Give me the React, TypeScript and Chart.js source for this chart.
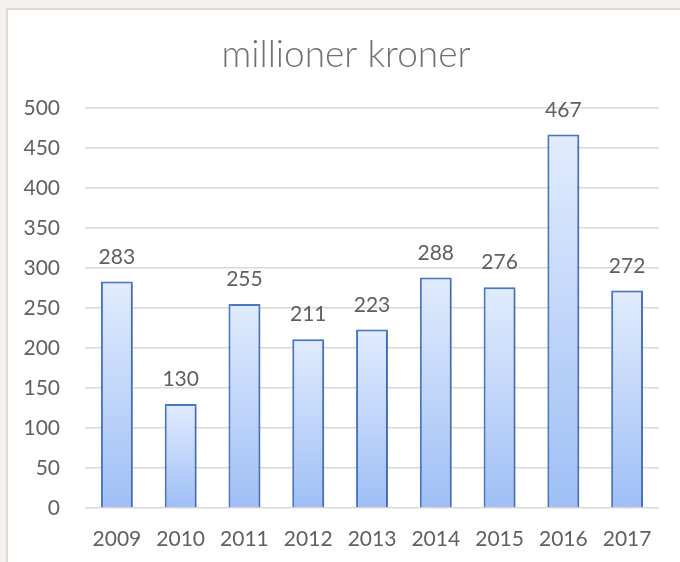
import React, { useEffect, useRef } from "react";
import { Chart, registerables } from "chart.js";

Chart.register(...registerables);

const categories = ["2009", "2010", "2011", "2012", "2013", "2014", "2015", "2016", "2017"];
const values = [283, 130, 255, 211, 223, 288, 276, 467, 272];
const yTicks = [0, 50, 100, 150, 200, 250, 300, 350, 400, 450, 500];
const titleText = "millioner kroner";

const FONT = "Lato, 'Open Sans', sans-serif";
const TEXT_COLOR = "#606060";

const backgroundPlugin = {
  id: "bgBox",
  beforeDraw(chart: any) {
    const ctx = chart.ctx;
    ctx.save();
    ctx.fillStyle = "#f5f1ee";
    ctx.fillRect(0, 0, chart.width, chart.height);
    ctx.fillStyle = "#dddad8";
    ctx.fillRect(6, 8, chart.width - 6, chart.height - 8);
    ctx.fillStyle = "#ffffff";
    ctx.fillRect(8, 10, chart.width - 8, chart.height - 10);
    ctx.restore();
  },
};

const titlePlugin = {
  id: "centredTitle",
  afterDraw(chart: any) {
    const ctx = chart.ctx;
    ctx.save();
    ctx.fillStyle = "#717171";
    ctx.font = `300 37px ${FONT}`;
    ctx.textAlign = "center";
    ctx.textBaseline = "middle";
    ctx.fillText(titleText, (8 + chart.width) / 2 + 2, 55);
    ctx.restore();
  },
};

const shadowPlugin = {
  id: "barShadow",
  beforeDatasetsDraw(chart: any) {
    const ctx = chart.ctx;
    ctx.save();
    ctx.shadowColor = "rgba(0,0,0,0.22)";
    ctx.shadowBlur = 3;
    ctx.shadowOffsetX = 1;
    ctx.shadowOffsetY = 1;
  },
  afterDatasetsDraw(chart: any) {
    chart.ctx.restore();
  },
};

const dataLabelPlugin = {
  id: "dataLabels",
  afterDatasetsDraw(chart: any) {
    const ctx = chart.ctx;
    const meta = chart.getDatasetMeta(0);
    ctx.save();
    ctx.fillStyle = TEXT_COLOR;
    ctx.font = `21px ${FONT}`;
    ctx.textAlign = "center";
    ctx.textBaseline = "bottom";
    meta.data.forEach((bar: any, i: number) => {
      ctx.fillText(String(values[i]), bar.x, bar.y - 14);
    });
    ctx.restore();
  },
};

export default function App() {
  const canvasRef = useRef<HTMLCanvasElement | null>(null);

  useEffect(() => {
    document.body.style.margin = "0";
    const canvas = canvasRef.current;
    if (!canvas) return;
    const chart = new Chart(canvas, {
      type: "bar",
      data: {
        labels: categories,
        datasets: [
          {
            data: values,
            borderColor: "#4a78c2",
            borderWidth: 2,
            barPercentage: 0.5,
            categoryPercentage: 1,
            backgroundColor: (c: any) => {
              const chartObj = c.chart;
              const ys = chartObj.scales?.y;
              if (!ys || !chartObj.chartArea || c.parsed == null) return "#c4d8fa";
              const top = ys.getPixelForValue(c.parsed.y);
              const base = ys.getPixelForValue(0);
              if (!isFinite(top) || !isFinite(base) || top === base) return "#c4d8fa";
              const g = chartObj.ctx.createLinearGradient(0, top, 0, base);
              g.addColorStop(0, "#e1ecfd");
              g.addColorStop(1, "#9fbff6");
              return g;
            },
          },
        ],
      },
      options: {
        responsive: false,
        animation: false,
        layout: { padding: { top: 108, right: 21, bottom: 0, left: 0 } },
        plugins: {
          legend: { display: false },
          tooltip: { enabled: false },
          title: { display: false },
        },
        scales: {
          x: {
            grid: { display: false, drawTicks: false },
            border: { display: false },
            afterFit: (scale: any) => {
              scale.height = 54;
            },
            ticks: {
              color: TEXT_COLOR,
              font: { family: FONT, size: 21 },
              padding: 19,
              maxRotation: 0,
            },
          },
          y: {
            min: 0,
            max: 500,
            afterBuildTicks: (scale: any) => {
              scale.ticks = yTicks.map((v) => ({ value: v }));
            },
            afterFit: (scale: any) => {
              scale.width = 85;
            },
            grid: { color: "#d9d9d9", lineWidth: 1.5, drawTicks: false },
            border: { display: false },
            ticks: {
              color: TEXT_COLOR,
              font: { family: FONT, size: 21 },
              padding: 25,
            },
          },
        },
      },
      plugins: [backgroundPlugin, shadowPlugin, dataLabelPlugin, titlePlugin],
    });
    return () => chart.destroy();
  }, []);

  return (
    <div style={{ position: "absolute", left: 0, top: 0, width: 680, height: 562 }}>
      <canvas ref={canvasRef} width={680} height={562} style={{ width: 680, height: 562, display: "block" }} />
    </div>
  );
}
